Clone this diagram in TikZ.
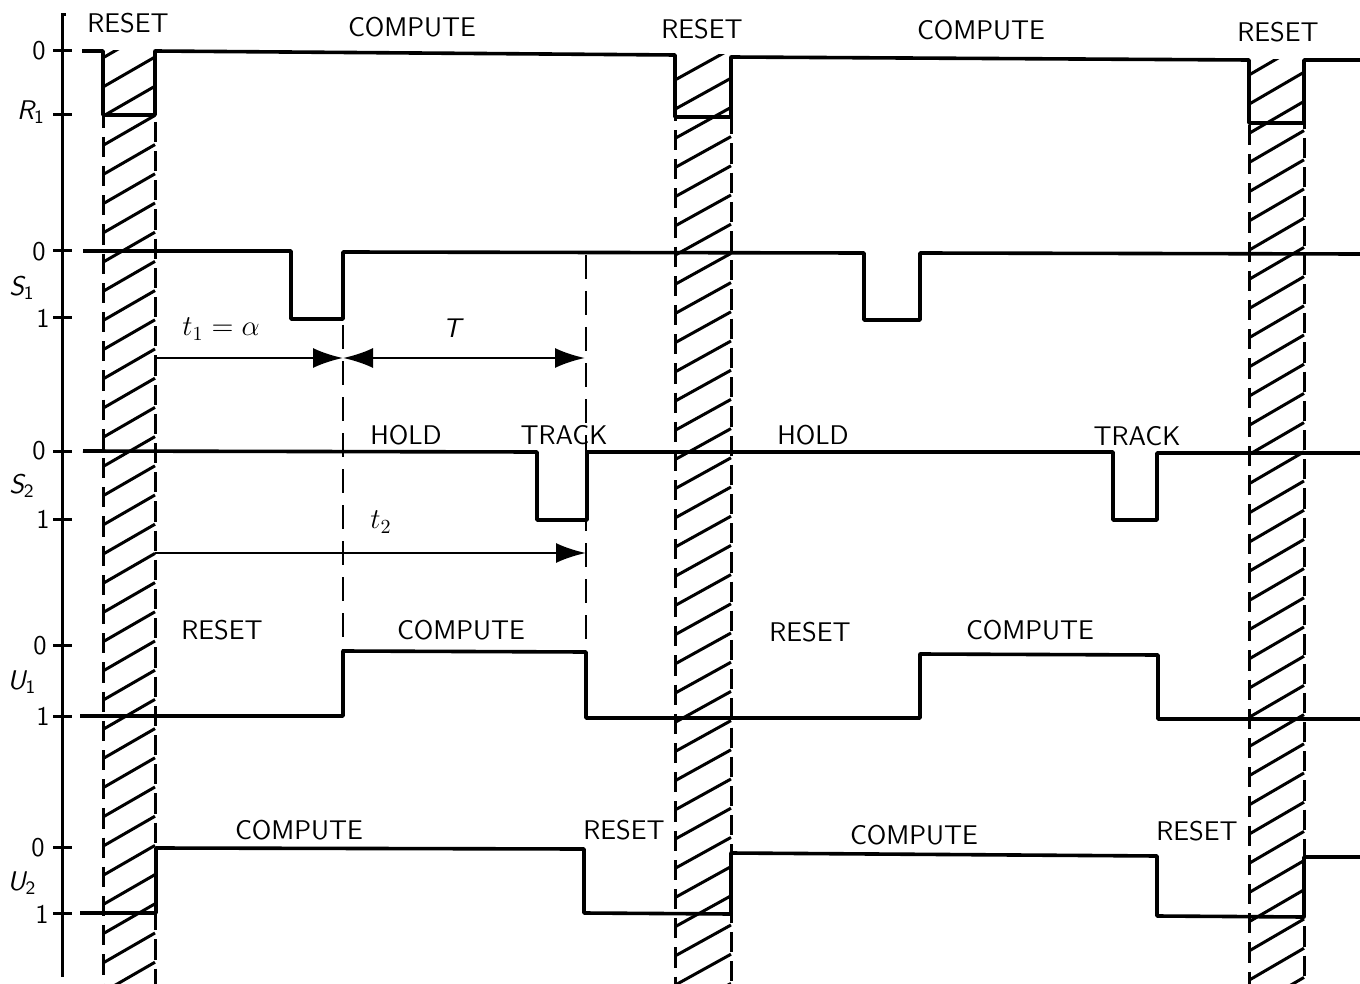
\documentclass[tikz,border=0pt]{standalone}
\usepackage{fontspec}
\usetikzlibrary{arrows.meta}
\begin{document}
\begin{tikzpicture}[x=0.5pt,y=-0.5pt,
  sig/.style={line width=1.8pt,line join=round},
  hatch/.style={line width=1.5pt},
  bandedge/.style={line width=1.5pt},
  ax/.style={line width=1.5pt},
  dim/.style={line width=1.3pt},
  guide/.style={line width=1.3pt,dash pattern=on 12pt off 6pt},
  lab/.style={font=\sffamily\fontsize{13.5}{13.5}\selectfont,inner sep=0pt},
  axlab/.style={font=\sffamily\fontsize{13.5}{13.5}\selectfont,inner sep=0pt},
  mlab/.style={font=\fontsize{14.4}{14.4}\selectfont,inner sep=0pt},
  tipA/.style={-{Latex[length=15pt,width=10pt]}},
  tipB/.style={{Latex[length=15pt,width=10pt]}-{Latex[length=15pt,width=10pt]}}]
\useasboundingbox[fill=white] (0,0) rectangle (1360,984);

% axis
\draw[ax] (66,15) -- (62,15) -- (62,977);
\foreach \yy in {51,115,251,318,451,519,645,716,847,913}
  \draw[ax] (53,\yy) -- (72,\yy);
\node[axlab] (a0) at (39,51) {0};
\node[axlab] (aR) at (31,112) {\itshape R\textsubscript{\upshape 1}};
\node[axlab] (b0) at (39,252) {0};
\node[axlab] (bS) at (22,288) {\itshape S\textsubscript{\upshape 1}};
\node[axlab] (b1) at (43,318) {1};
\node[axlab] (c0) at (39,451) {0};
\node[axlab] (cS) at (22,486) {\itshape S\textsubscript{\upshape 2}};
\node[axlab] (c1) at (43,519) {1};
\node[axlab] (d0) at (40,646) {0};
\node[axlab] (dU) at (22,682) {\itshape U\textsubscript{\upshape 1}};
\node[axlab] (d1) at (43,716) {1};
\node[axlab] (e0) at (38,848) {0};
\node[axlab] (eU) at (22,883) {\itshape U\textsubscript{\upshape 2}};
\node[axlab] (e1) at (42,914) {1};

% hatched bands
\foreach \xl/\xr/\tp/\lo/\yo/\dd in {103/155/51/115/87/30, 675/731/55/117/80/31, 1249/1304/60/123/75/32}{
  \begin{scope}
    \clip (\xl-3,\tp) rectangle (\xr+3,984);
    \foreach \kk in {-1,...,32}
      \draw[hatch] (\xl,{\yo+29.2*\kk}) -- (\xr,{\yo+29.2*\kk-\dd});
  \end{scope}
  \begin{scope}
    \clip (\xl-3,\lo) rectangle (\xr+3,984);
    \foreach \kk in {-1,...,32}{
      \draw[bandedge] (\xl,{\yo+20.6+29.2*\kk}) -- ++(0,20.2);
      \draw[bandedge] (\xr,{\yo+20.6+29.2*\kk-\dd/2}) -- ++(0,20.2);
    }
  \end{scope}
}

% signals
\draw[sig] (82,51) -- (103,51) -- (103,115) -- (155,115) -- (155,51) -- (675,55)
  -- (675,117) -- (731,117) -- (731,57) -- (1249,60) -- (1249,123) -- (1304,123)
  -- (1304,60) -- (1360,60);
\draw[sig] (83,251) -- (291,251) -- (291,319) -- (343,319) -- (343,252) -- (864,253)
  -- (864,320) -- (920,320) -- (920,253) -- (1360,254);
\draw[sig] (83,451) -- (537,452) -- (537,520) -- (587,520) -- (587,452) -- (1113,452)
  -- (1113,520) -- (1157,520) -- (1157,453) -- (1360,453);
\draw[sig] (80,716) -- (343,716) -- (343,651) -- (586,652) -- (586,718) -- (920,718)
  -- (920,654) -- (1158,655) -- (1158,719) -- (1360,719);
\draw[sig] (80,913) -- (156,913) -- (156,848) -- (584,849) -- (584,913) -- (731,914)
  -- (731,853) -- (1157,856) -- (1157,916) -- (1304,917) -- (1304,857) -- (1360,857);

% guide lines
\coordinate (g1t) at (343,325);
\coordinate (g1b) at (343,651);
\coordinate (g2t) at (586,255);
\coordinate (g2b) at (586,652);
\draw[guide] (g1t) -- (g1b);
\draw[guide] (g2t) -- (g2b);

% dimension arrows
\coordinate (p1) at (155,358);
\coordinate (p2) at (343,358);
\coordinate (p3) at (585,358);
\coordinate (q1) at (155,553);
\coordinate (q2) at (586,553);
\draw[dim,tipA] (p1) -- (p2);
\draw[dim,tipB] (p2) -- (p3);
\draw[dim,tipA] (q1) -- (q2);
\node[mlab] (t1) at (221,329) {$t_1=\alpha$};
\node[lab] (tT) at (452,328) {\itshape T};
\node[mlab] (t2) at (381,522) {$t_2$};

% labels
\node[lab] (l1) at (128,23) {RESET};
\node[lab] (l2) at (412,27) {COMPUTE};
\node[lab] (l3) at (702,29) {RESET};
\node[lab] (l4) at (981,30) {COMPUTE};
\node[lab] (l5) at (1278,32) {RESET};
\node[lab] (h1) at (406,435) {HOLD};
\node[lab] (h2) at (564,435) {TRACK};
\node[lab] (h3) at (813,435) {HOLD};
\node[lab] (h4) at (1137,436) {TRACK};
\node[lab] (u1) at (222,630) {RESET};
\node[lab] (u2) at (461,630) {COMPUTE};
\node[lab] (u3) at (810,632) {RESET};
\node[lab] (u4) at (1030,630) {COMPUTE};
\node[lab] (v1) at (299,830) {COMPUTE};
\node[lab] (v2) at (624,830) {RESET};
\node[lab] (v3) at (914,835) {COMPUTE};
\node[lab] (v4) at (1197,831) {RESET};
\end{tikzpicture}
\end{document}
